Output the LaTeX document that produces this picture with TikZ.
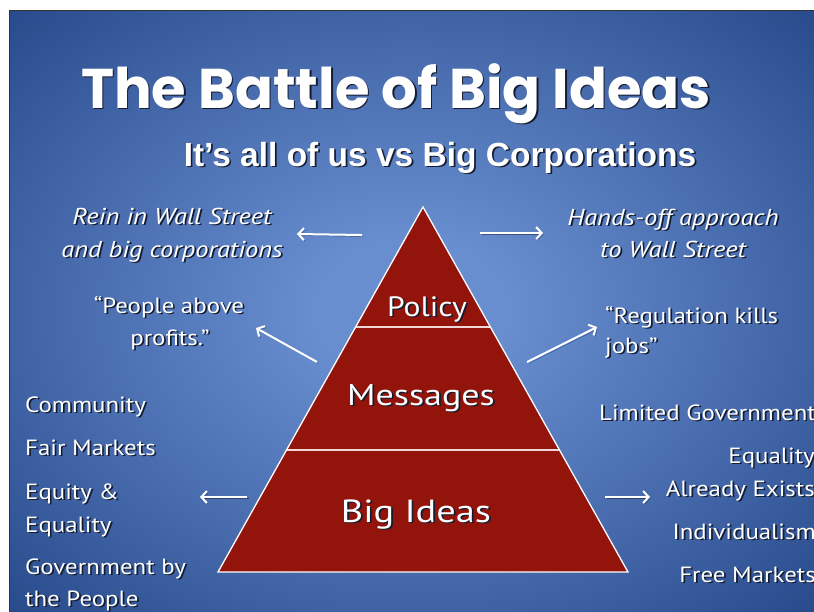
\documentclass[tikz,border=0pt]{standalone}
\usepackage{fontspec}
\setmainfont{PT Sans}
\newfontfamily\bodyfont{PT Sans}[FakeStretch=1.13]
\newfontfamily\italfont{PT Sans Italic}[FakeStretch=1.15]
\newfontfamily\pyrfont{PT Sans}[FakeStretch=1.2]
\newfontfamily\titlefont{Poppins}
\newfontfamily\subfont{Liberation Sans}
\usetikzlibrary{arrows.meta,calc}
\definecolor{bgin}{RGB}{104,142,208}
\definecolor{bgout}{RGB}{22,55,120}
\definecolor{pyr}{RGB}{146,20,10}
\definecolor{layerline}{RGB}{240,215,215}
\definecolor{shadowc}{RGB}{20,28,50}
\pgfdeclareradialshading{bgshade}{\pgfpoint{0bp}{0bp}}{color(0bp)=(bgin); color(6bp)=(bgin); color(44bp)=(bgout); color(75bp)=(bgout)}
% text with a soft drop shadow inside one node
\newcommand\shd[1]{\leavevmode\rlap{\kern1.7pt\raisebox{-1.7pt}{\color{shadowc}#1}}#1}
\tikzset{
  txt/.style={text=white, inner sep=0pt, font=\bodyfont\fontsize{22}{25}\selectfont},
  itx/.style={txt, font=\italfont\fontsize{23}{25}\selectfont},
  pyrtxt/.style={txt, font=\pyrfont\fontsize{30}{32}\selectfont},
  arr/.style={draw=white, line width=2pt, -{Straight Barb[length=5.5pt,width=12pt]},
    preaction={draw=shadowc, draw opacity=0.5, transform canvas={shift={(1.5pt,-1.5pt)}}}},
}
% #1 options, #2 name, #3 anchor, #4 x, #5 y, #6 text
\newcommand\stx[6][]{%
  \node[txt,#1,anchor=#3] (#2) at (#4,#5) {\shd{#6}};}
\begin{document}
\begin{tikzpicture}[x=1pt,y=-1pt]
\useasboundingbox (0,0) rectangle (814,611);
\fill[white] (0,0) rectangle (814,611);
\shade[shading=bgshade] (9,10) rectangle (814,611);
\draw[black!80, line width=0.8pt] (9,611) -- (9,10) -- (814,10);

% title
\stx[font=\titlefont\bfseries\fontsize{56}{60}\selectfont]{title}{base}{396}{108}{The Battle of Big Ideas}
\stx[font=\subfont\bfseries\fontsize{33.5}{36}\selectfont]{subtitle}{base}{440}{166}{It’s all of us vs Big Corporations}

% pyramid
\coordinate (apex) at (423,207);
\coordinate (bl) at (218,572);
\coordinate (br) at (628,572);
\coordinate (l1) at (355.6,327);
\coordinate (r1) at (490.4,327);
\coordinate (l2) at (286.5,450);
\coordinate (r2) at (559.5,450);
\fill[pyr] (apex) -- (br) -- (bl) -- cycle;
\draw[layerline, line width=1.6pt] (l1) -- (r1);
\draw[layerline, line width=1.6pt] (l2) -- (r2);
\draw[white, line width=1.3pt, line join=miter] (apex) -- (br) -- (bl) -- cycle;

\stx[pyrtxt,font=\bodyfont\fontsize{28}{32}\selectfont]{policy}{base}{427}{316}{Policy}
\stx[pyrtxt]{messages}{base}{421}{405}{Messages}
\stx[pyrtxt,font=\pyrfont\fontsize{32}{34}\selectfont]{bigideas}{base}{416}{522}{Big Ideas}

% upper left
\stx[itx]{rein1}{base}{172}{224}{Rein in Wall Street}
\stx[itx]{rein2}{base}{172}{257}{and big corporations}
\stx{people1}{base}{169}{313}{“People above}
\stx{people2}{base}{170}{345}{profits.”}
% upper right
\stx[itx]{hands1}{base}{673}{225}{Hands-off approach}
\stx[itx]{hands2}{base}{673}{257}{to Wall Street}
\stx{reg1}{base west}{605}{323}{“Regulation kills}
\stx{reg2}{base west}{605}{353}{jobs”}

% lower left list
\stx{community}{base west}{25}{412}{Community}
\stx{fair}{base west}{25}{455}{Fair Markets}
\stx{equity1}{base west}{25}{499}{Equity \&}
\stx{equity2}{base west}{25}{532}{Equality}
\stx{gov1}{base west}{25}{574}{Government by}
\stx{gov2}{base west}{25}{606}{the People}

% lower right list
\stx{limited}{base east}{816}{420}{Limited Government}
\stx{eq1}{base east}{815}{463}{Equality}
\stx{eq2}{base east}{815}{496}{Already Exists}
\stx{indiv}{base east}{816}{539}{Individualism}
\stx{free}{base east}{816}{582}{Free Markets}

% arrows
\coordinate (a1s) at (362,235);
\coordinate (a1e) at (297,234);
\draw[arr] (a1s) -- (a1e);
\coordinate (a2s) at (480,233);
\coordinate (a2e) at (543,233);
\draw[arr] (a2s) -- (a2e);
\coordinate (a3s) at (317,362);
\coordinate (a3e) at (256,328);
\draw[arr] (a3s) -- (a3e);
\coordinate (a4s) at (527,362);
\coordinate (a4e) at (597,327);
\draw[arr] (a4s) -- (a4e);
\coordinate (a5s) at (247,497);
\coordinate (a5e) at (200,497);
\draw[arr] (a5s) -- (a5e);
\coordinate (a6s) at (605,497);
\coordinate (a6e) at (650,497);
\draw[arr] (a6s) -- (a6e);
\end{tikzpicture}
\end{document}
